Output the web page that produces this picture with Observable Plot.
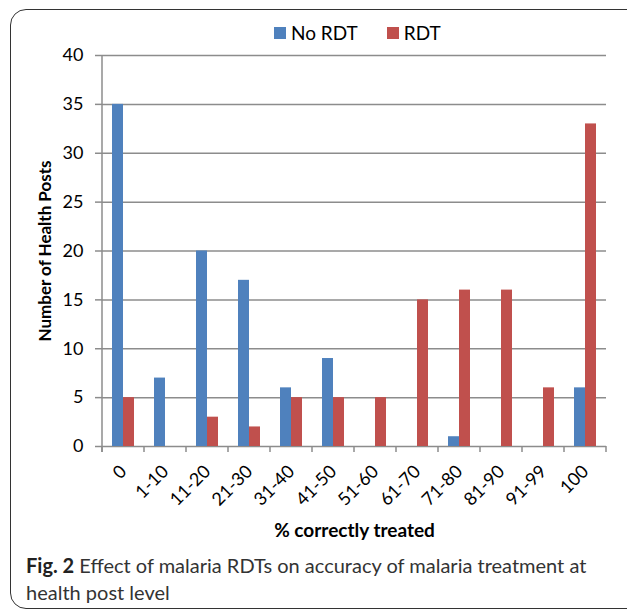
<!DOCTYPE html>
<html><head><meta charset="utf-8">
<script src="https://cdn.jsdelivr.net/npm/d3@7"></script>
<script src="https://cdn.jsdelivr.net/npm/@observablehq/plot@0.6"></script>
<style>
body{margin:0;background:#fff;width:627px;height:611px;overflow:hidden;position:relative;font-family:Lato, sans-serif;}
#frame{position:absolute;left:10px;top:9px;width:660px;height:598px;border:1.5px solid #333;border-radius:16px;}
#legend{position:absolute;top:21px;left:274px;font-size:19px;display:flex;align-items:center;color:#000;}
#legend .sw{display:inline-block;width:12px;height:12px;margin-right:5px;}
#legend .item{display:flex;align-items:center;margin-right:29px;}
#chart{position:absolute;left:0;top:40px;}
#caption{position:absolute;left:26px;top:552px;width:595px;font-size:20px;line-height:27px;color:#333;}
#caption div{white-space:nowrap;}
#caption span.fig{font-weight:bold;color:#222;}
</style></head>
<body>
<div id="frame"></div>
<div id="legend"></div>
<div id="chart"></div>
<div id="caption"><div><span class="fig">Fig. 2</span> <span>Effect of malaria RDTs on accuracy of malaria treatment at</span></div><div>health post level</div></div>
<script>
const categories = ["0","1-10","11-20","21-30","31-40","41-50","51-60","61-70","71-80","81-90","91-99","100"];
const series = ["No RDT","RDT"];
const noRdt = [35,7,20,17,6,9,0,0,1,0,0,6];
const rdt = [5,0,3,2,5,5,5,15,16,16,6,33];
const colors = ["#4F81BD","#C0504D"];
const yTicks = [0,5,10,15,20,25,30,35,40];

const data = categories.flatMap((c,i)=>[
  {cat:c, series:series[0], value:noRdt[i]},
  {cat:c, series:series[1], value:rdt[i]}
]);

const legend = document.getElementById("legend");
series.forEach((s,i)=>{
  const it = document.createElement("span"); it.className="item";
  it.innerHTML = `<span class="sw" style="background:${colors[i]}"></span>${s}`;
  legend.appendChild(it);
});

const chart = Plot.plot({
  width:627, height:500, marginTop:15, marginLeft:100, marginRight:20, marginBottom:94,
  style:{fontFamily:"Lato, sans-serif", fontSize:"18px", color:"#000", overflow:"visible", background:"transparent"},
  fx:{domain:categories, padding:0},
  x:{domain:series, paddingInner:0, paddingOuter:0.76, axis:null},
  y:{domain:[0,40]},
  color:{domain:series, range:colors},
  marks:[
    Plot.gridY(yTicks,{stroke:"#8c8c8c", strokeOpacity:1, strokeWidth:1.5}),
    Plot.axisY(yTicks,{tickSize:7, stroke:"#8c8c8c", strokeWidth:1.5, tickPadding:12, fill:"#000",
      label:"Number of Health Posts", labelAnchor:"center", labelArrow:"none", labelOffset:64}),
    Plot.barY(data,{fx:"cat", x:"series", y:"value", fill:"series"}),
    Plot.axisFx({anchor:"bottom", tickSize:0, tickRotate:-45, tickPadding:22, fill:"#000",
      label:"% correctly treated", labelAnchor:"center", labelArrow:"none", labelOffset:90})
  ]
});
document.getElementById("chart").appendChild(chart);

const svg = d3.select(chart);
svg.selectAll('g[aria-label="y-axis label"] text').attr("font-weight","bold").attr("font-size","17px");
svg.selectAll('g[aria-label="fx-axis label"] text').attr("font-weight","bold").attr("font-size","19px");
const fx = chart.scale("fx");
const y = chart.scale("y");
const y0 = y.apply(0);
const bounds = categories.map(c=>fx.apply(c)).concat([fx.apply(categories[categories.length-1])+fx.bandwidth]);
const g = svg.append("g").attr("stroke","#8c8c8c").attr("stroke-width",1.5);
g.append("line").attr("x1",bounds[0]).attr("x2",bounds[0]).attr("y1",y.apply(40)).attr("y2",y0+6);
bounds.forEach(b=>g.append("line").attr("x1",b).attr("x2",b).attr("y1",y0).attr("y2",y0+6));
</script>
</body></html>
